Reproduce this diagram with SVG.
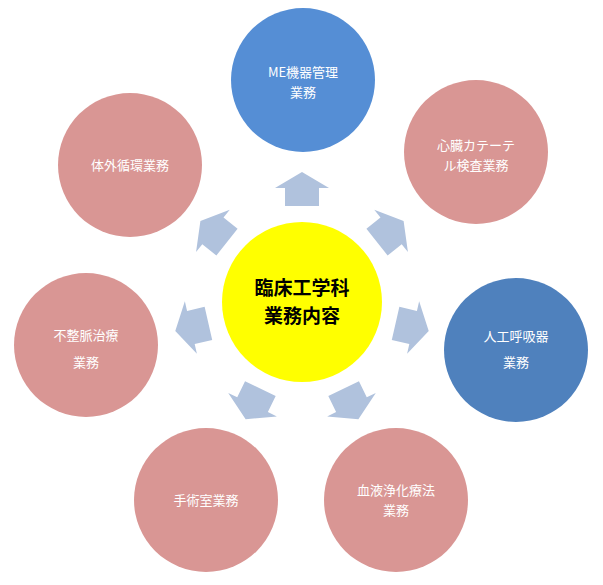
<svg xmlns="http://www.w3.org/2000/svg" width="603" height="585" viewBox="0 0 603 585">
<style>
.p{fill:#d99694}
.b1{fill:#558ed5}
.b2{fill:#4f81bd}
.t{fill:#fff;font-family:"Noto Sans CJK JP",sans-serif;font-size:13px;text-anchor:middle}
.c{fill:#000;font-family:"Noto Sans CJK JP",sans-serif;font-size:19px;font-weight:bold;text-anchor:middle}
.a{fill:#b0c2dd}
</style>
<defs><path id="ar" d="M96,-17 L114,-17 L114,-27 L130,0 L114,27 L114,17 L96,17 Z"/></defs>
<rect width="603" height="585" fill="#fff"/>
<g id="connectors">
<g transform="translate(302,302)">
<use href="#ar" class="a" transform="rotate(-90)"/>
<use href="#ar" class="a" transform="rotate(-38.6)"/>
<use href="#ar" class="a" transform="rotate(12.9)"/>
<use href="#ar" class="a" transform="rotate(64.3)"/>
<use href="#ar" class="a" transform="rotate(115.7)"/>
<use href="#ar" class="a" transform="rotate(167.1)"/>
<use href="#ar" class="a" transform="rotate(218.6)"/>
</g>
</g>
<g id="center"><circle cx="302" cy="302" r="80" fill="#ffff00"/>
<text class="c" x="302" y="295">臨床工学科</text><text class="c" x="302" y="323">業務内容</text></g>
<g id="me"><circle cx="303" cy="80" r="72" class="b1"/><text class="t" x="303" y="77">ME機器管理</text><text class="t" x="303" y="97">業務</text></g>
<g id="heart"><circle cx="476" cy="152" r="72" class="p"/><text class="t" x="476" y="150">心臓カテーテ</text><text class="t" x="476" y="170">ル検査業務</text></g>
<g id="resp"><circle cx="516" cy="350" r="72" class="b2"/><text class="t" x="516" y="341">人工呼吸器</text><text class="t" x="516" y="367">業務</text></g>
<g id="blood"><circle cx="396" cy="500" r="72" class="p"/><text class="t" x="396" y="495">血液浄化療法</text><text class="t" x="396" y="515">業務</text></g>
<g id="surgery"><circle cx="206" cy="500" r="72" class="p"/><text class="t" x="206" y="505">手術室業務</text></g>
<g id="arrhythmia"><circle cx="86" cy="345" r="72" class="p"/><text class="t" x="86" y="340">不整脈治療</text><text class="t" x="86" y="367">業務</text></g>
<g id="extra"><circle cx="130" cy="165" r="72" class="p"/><text class="t" x="130" y="170">体外循環業務</text></g>
</svg>
